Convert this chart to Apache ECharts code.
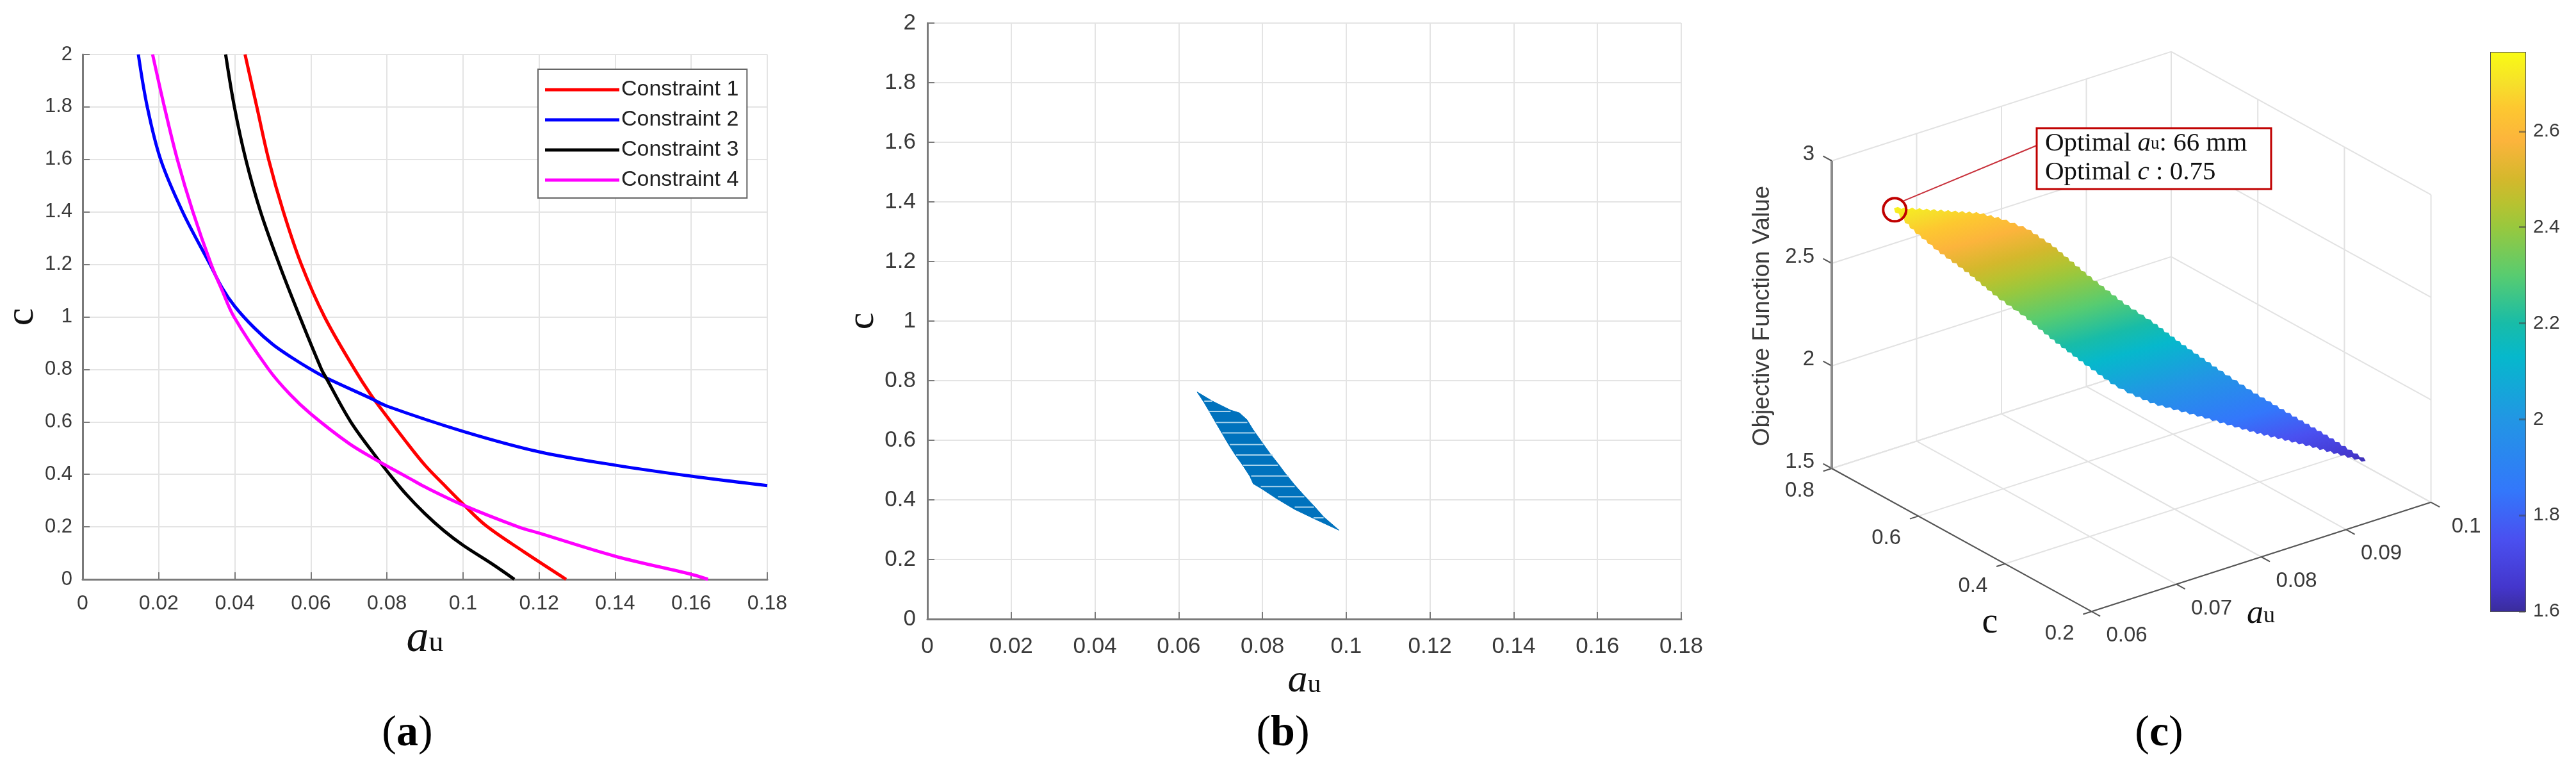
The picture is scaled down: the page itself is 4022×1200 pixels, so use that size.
<!DOCTYPE html>
<html><head><meta charset="utf-8">
<script src="https://cdn.jsdelivr.net/npm/echarts@6/dist/echarts.min.js"></script>
<style>html,body{margin:0;padding:0;background:#fff}#c{width:4022px;height:1200px}</style>
</head><body><div id="c"></div>
<script>
// ---- panel (a): constraint curves [a_u, c]
const constraint1 = [[.0427,2],[.0458,1.8],[.0489,1.6],[.0528,1.4],[.0575,1.2],[.0636,1],[.0715,.8],[.0757,.705],[.08,.62],[.085,.525],[.09,.435],[.095,.36],[.1,.287],[.106,.205],[.1159,.106],[.1271,0]];
const constraint2 = [[.01465,2],[.017,1.8],[.0205,1.6],[.0263,1.4],[.0335,1.2],[.0367,1.11],[.04,1.04],[.045,.96],[.05,.895],[.055,.845],[.06,.8],[.064,.768],[.0757,.69],[.08,.66],[.1,.564],[.12,.486],[.14,.435],[.16,.393],[.18,.357]];
const constraint3 = [[.0376,2],[.0399,1.8],[.0429,1.6],[.0468,1.4],[.0517,1.2],[.0571,1],[.0628,.8],[.064,.768],[.0705,.6],[.0775,.46],[.0807,.4],[.085,.325],[.09,.25],[.095,.185],[.1,.13],[.1075,.06],[.1135,0]];
const constraint4 = [[.0184,2],[.0215,1.8],[.0249,1.6],[.029,1.4],[.0338,1.2],[.0367,1.1],[.0398,1],[.0489,.8],[.0545,.705],[.06,.63],[.07,.518],[.0775,.452],[.08,.432],[.0859,.385],[.09,.352],[.1,.283],[.1145,.2],[.12,.176],[.14,.088],[.16,.019],[.1644,0]];
// ---- panel (b): feasible region outline [a_u, c] and the pale scan gaps across it
const regionOutline = [[.0644,.762],[.0681,.731],[.0724,.701],[.0745,.692],[.0763,.669],[.0777,.637],[.0797,.597],[.0819,.554],[.0837,.522],[.0854,.49],[.0877,.45],[.09,.414],[.0926,.375],[.0946,.343],[.0983,.298],[.0926,.335],[.0877,.368],[.0834,.404],[.0796,.439],[.0778,.454],[.077,.479],[.0752,.518],[.0735,.551],[.0719,.586],[.0704,.622],[.0689,.658],[.0673,.697],[.066,.728]];
const gapC  = [.7312,.6968,.6595,.625,.5856,.5505,.516,.4802,.4444,.41,.3755,.3397];
const gapA0 = [.0661,.0673,.0689,.0704,.0722,.0737,.0754,.0773,.0796,.0837,.0877,.0922];
const gapA1 = [.068,.0724,.0764,.0783,.0802,.0824,.0837,.0862,.0877,.09,.0923,.0946];
// ---- panel (c): objective surface outline
const surfA = [.0654,.0681,.0724,.0745,.0763,.0777,.0797,.0819,.0837,.0854,.0877,.09,.0926,.0946,.0973,.0926,.0877,.0834,.0796,.0778,.077,.0752,.0735,.0719,.0704,.0689,.0673,.066];
const surfC = [.762,.731,.701,.692,.669,.637,.597,.554,.522,.49,.45,.414,.375,.343,.298,.335,.368,.404,.439,.454,.479,.518,.551,.586,.622,.658,.697,.728];
const surfZ = [2.74,2.729,2.69,2.645,2.6,2.535,2.414,2.294,2.214,2.125,2.016,1.915,1.813,1.736,1.624,1.72,1.815,1.905,1.978,2.03,2.056,2.147,2.2375,2.334,2.41,2.503,2.587,2.669];
const aTicks3d = [.06,.07,.08,.09,.1];
const cTicks3d = [.2,.4,.6,.8];
const zTicks3d = [1.5,2,2.5,3];
const zTickText = ['1.5','2','2.5','3'];
const aTickText = ['0.06','0.07','0.08','0.09','0.1'];
const cTickText = ['0.2','0.4','0.6','0.8'];
const optimum = [.0654,.762,2.74];
// ---- colour bar
const cbarMin = 1.6, cbarMax = 2.764;
const cmapZ = [1.6,1.65,1.75,1.85,2.0,2.13,2.2,2.3,2.4,2.45,2.5,2.58,2.65,2.7,2.764];
const cmapC = ['#3a2c9c','#4436cc','#4a50f0','#3377fb','#2296e4','#06b8cc','#18bca8','#58cc70','#98c83e','#b8c230','#d4b82c','#fcb43c','#fdc830','#f6e02a','#f9fb14'];

const SANS = '"Liberation Sans",Arial,sans-serif', SERIF = '"Liberation Serif",serif';
const TXT = '#3a3a3a', AXIS = '#7a7a7a', GRID = '#e4e4e4';

// 3-D view: linear projection of (a, c, z) on a hidden axis pair
function project(a, c, z) {
  return [2860 + (a - .06) * 13250 + (.8 - c) * 676,
          731 - (a - .06) * 4260 + (.8 - c) * 372 - (z - 1.5) * 320];
}
const boxSegs = [], axisSegs = [], zAxisSegs = [];
const [a0, a1] = [.06, .1], [c0, c1] = [.2, .8], [z0, z1] = [1.5, 3];
aTicks3d.forEach(a => { boxSegs.push([a,c0,z0,a,c1,z0]); boxSegs.push([a,c1,z0,a,c1,z1]);
  axisSegs.push([a,c0,z0,a,c0-.02,z0]); });
cTicks3d.forEach(c => { boxSegs.push([a0,c,z0,a1,c,z0]); boxSegs.push([a1,c,z0,a1,c,z1]);
  axisSegs.push([a0,c,z0,a0-.001,c,z0]); });
zTicks3d.forEach(z => { boxSegs.push([a0,c1,z,a1,c1,z]); boxSegs.push([a1,c0,z,a1,c1,z]);
  axisSegs.push([a0,c1,z,a0,c1+.02,z]); });
axisSegs.push([a0,c0,z0,a1,c0,z0]); axisSegs.push([a0,c0,z0,a0,c1,z0]);
zAxisSegs.push([a0,c1,z0,a0,c1,z1]);

const segSeries = (data, color, width, z) => ({
  type:'custom', xAxisIndex:2, yAxisIndex:2, coordinateSystem:'cartesian2d', clip:false, silent:true, z,
  data: data.map(s => project(s[0],s[1],s[2]).concat(project(s[3],s[4],s[5]))),
  renderItem: (p, api) => { const a = api.coord([api.value(0),api.value(1)]), b = api.coord([api.value(2),api.value(3)]);
    return {type:'line', shape:{x1:a[0],y1:a[1],x2:b[0],y2:b[1]}, style:{stroke:color,lineWidth:width}}; }
});
const labelSeries = (pts, texts, opts) => ({
  type:'custom', xAxisIndex:2, yAxisIndex:2, clip:false, silent:true, z:5,
  data: pts,
  renderItem: (p, api) => { const q = api.coord([api.value(0),api.value(1)]);
    return {type:'text', x:q[0]+opts.dx, y:q[1]+opts.dy,
      style:{text:texts[p.dataIndex], fill:TXT, font:'33px '+SANS, align:opts.align||'center', verticalAlign:'middle'}}; }
});
const polyPx = (pts, api) => pts.map(q => api.coord(q));
// saw-tooth edge left by the scan grid (visual style only)
function jag(pts, step, amp) {
  const out = [];
  for (let i = 0; i < pts.length; i++) {
    const A = pts[i], B = pts[(i+1)%pts.length], L = Math.hypot(B[0]-A[0],B[1]-A[1]);
    const n = Math.max(1, Math.floor(L/step)), ox = (B[1]-A[1])/L, oy = -(B[0]-A[0])/L;
    for (let k = 0; k < n; k++) {
      const t0 = k/n, t1 = (k+.5)/n;
      out.push([A[0]+(B[0]-A[0])*t0, A[1]+(B[1]-A[1])*t0]);
      out.push([A[0]+(B[0]-A[0])*t1+ox*amp, A[1]+(B[1]-A[1])*t1+oy*amp]);
    }
  }
  return out;
}
const stops = cmapZ.map((z,i) => ({offset:(z-cbarMin)/(cbarMax-cbarMin), color:cmapC[i]}));
const surfData = surfA.map((a,i) => project(a,surfC[i],surfZ[i]));

const isoN = [35/131.7, 127/131.7];
function gradientFor() {
  const P0 = surfData[0], P1 = surfData[14];
  const d = (P1[0]-P0[0])*isoN[0] + (P1[1]-P0[1])*isoN[1];
  const perZ = d/(surfZ[0]-surfZ[14]);
  const at = z => [P0[0]+isoN[0]*(surfZ[0]-z)*perZ, P0[1]+isoN[1]*(surfZ[0]-z)*perZ];
  const s = at(cbarMin), e = at(cbarMax);
  return {type:'linear', x:s[0], y:s[1], x2:e[0], y2:e[1], global:true, colorStops:stops};
}

const flatAxis = (grid, extra) => Object.assign({
  type:'value', gridIndex:grid, min:0, axisLine:{show:true,onZero:false,lineStyle:{color:AXIS,width:3}},
  axisTick:{show:true,inside:true,length:11,lineStyle:{color:AXIS,width:2}},
  splitLine:{show:true,lineStyle:{color:GRID,width:2}},
}, extra);
const xRich = (a,u) => ({a:{fontFamily:SERIF,fontStyle:'italic',fontSize:a,color:'#111',padding:[0,0,12,0]},u:{fontFamily:SERIF,fontSize:u,color:'#111'}});

const option = {
  backgroundColor:'#fff', animation:false,
  title:[[631,'a'],[1998,'b'],[3366,'c']].map(t => ({
    text:'{p|(}{b|'+t[1]+'}{p|)}', left:t[0], top:1106, textAlign:'center',
    textStyle:{fontWeight:'normal',rich:{p:{fontFamily:SERIF,fontWeight:'normal',fontSize:68,color:'#000'},b:{fontFamily:SERIF,fontWeight:'bold',fontSize:68,color:'#000'}}}
  })),
  grid:[
    {left:129,top:85,width:1069,height:819,outerBoundsMode:'none'},
    {left:1448,top:36,width:1177,height:930,outerBoundsMode:'none'},
    {left:0,top:0,width:4022,height:1200,outerBoundsMode:'none'},
    {left:3889,top:82,width:54,height:872,outerBoundsMode:'none',show:true,borderColor:'#555',borderWidth:2,backgroundColor:'transparent'}
  ],
  xAxis:[
    flatAxis(0,{max:.18,interval:.02,name:'{a|a}{u|u}',nameLocation:'middle',nameGap:58,nameTextStyle:{rich:xRich(70,46)},
      axisLabel:{color:TXT,fontFamily:SANS,fontSize:32,margin:22}}),
    flatAxis(1,{max:.18,interval:.02,name:'{a|a}{u|u}',nameLocation:'middle',nameGap:46,nameTextStyle:{rich:xRich(62,42)},
      axisLabel:{color:TXT,fontFamily:SANS,fontSize:35,margin:26}}),
    {type:'value',gridIndex:2,min:0,max:4022,show:false},
    {type:'category',gridIndex:3,data:[''],show:false}
  ],
  yAxis:[
    flatAxis(0,{max:2,interval:.2,name:'c',nameLocation:'middle',nameRotate:90,nameGap:60,nameTextStyle:{fontFamily:SERIF,fontSize:62,color:'#111'},
      axisLabel:{color:TXT,fontFamily:SANS,fontSize:31,margin:16}}),
    flatAxis(1,{max:2,interval:.2,name:'c',nameLocation:'middle',nameRotate:90,nameGap:64,nameTextStyle:{fontFamily:SERIF,fontSize:60,color:'#111'},
      axisLabel:{color:TXT,fontFamily:SANS,fontSize:35,margin:18}}),
    {type:'value',gridIndex:2,min:0,max:1200,inverse:true,show:false},
    {type:'value',gridIndex:3,min:cbarMin,max:cbarMax,interval:.2,position:'right',z:6,
      axisLine:{show:false},splitLine:{show:false},
      axisTick:{show:true,inside:true,length:10,lineStyle:{color:'rgba(70,70,70,.55)',width:3}},
      axisLabel:{color:TXT,fontFamily:SANS,fontSize:30,margin:12,showMaxLabel:false}}
  ],
  legend:{
    left:840,top:108,orient:'vertical',icon:'rect',itemWidth:116,itemHeight:5,itemGap:13,
    padding:[15,13,11,11],backgroundColor:'#fff',borderColor:'#666',borderWidth:2,
    textStyle:{fontFamily:SANS,fontSize:34,color:'#222',padding:[0,0,0,-2]},
    data:['Constraint 1','Constraint 2','Constraint 3','Constraint 4']
  },
  series:[
    ...[['Constraint 1',constraint1,'#ff0000'],['Constraint 2',constraint2,'#0000ff'],['Constraint 3',constraint3,'#000000'],['Constraint 4',constraint4,'#ff00ff']].map(s => ({
      name:s[0],type:'line',xAxisIndex:0,yAxisIndex:0,data:s[1],showSymbol:false,smooth:.35,
      lineStyle:{color:s[2],width:5},itemStyle:{color:s[2]},silent:true
    })),
    {type:'custom',xAxisIndex:1,yAxisIndex:1,data:[[0,0]],silent:true,z:3,
     renderItem:(p,api)=>({type:'polygon',shape:{points:polyPx(regionOutline,api)},style:{fill:'#0072bd',stroke:'#0072bd',lineWidth:1}})},
    {type:'custom',xAxisIndex:1,yAxisIndex:1,data:gapC.map((c,i)=>[gapA0[i],c,gapA1[i]]),silent:true,z:4,
     renderItem:(p,api)=>{const a=api.coord([api.value(0),api.value(1)]),b=api.coord([api.value(2),api.value(1)]);
       return {type:'line',shape:{x1:a[0],y1:a[1],x2:b[0],y2:b[1]},style:{stroke:'#a9d3ec',lineWidth:2}};}},
    segSeries(boxSegs,'#e2e2e2',2,1),
    segSeries(axisSegs,'#555',2,2),
    segSeries(zAxisSegs,'#8c8c8c',4,2),
    {type:'custom',xAxisIndex:2,yAxisIndex:2,clip:false,silent:true,z:3,data:[[0,0]],
     renderItem:(p,api)=>({type:'polygon',shape:{points:jag(polyPx(surfData,api),11,3)},style:{fill:gradientFor()}})},
    labelSeries(zTicks3d.map(z=>project(a0,c1,z)),zTickText,{dx:-27,dy:-10,align:'right'}),
    labelSeries(aTicks3d.map(a=>project(a,c0,z0)),aTickText,{dx:55,dy:38}),
    labelSeries(cTicks3d.map(c=>project(a0,c,z0)),cTickText,{dx:-50,dy:35}),
    {type:'custom',xAxisIndex:2,yAxisIndex:2,clip:false,silent:true,z:6,data:[project(optimum[0],optimum[1],optimum[2])],
     renderItem:(p,api)=>{const q=api.coord([api.value(0),api.value(1)]);
       return {type:'group',children:[
         {type:'circle',shape:{cx:q[0]+1,cy:q[1]+2,r:18},style:{fill:'none',stroke:'#c00000',lineWidth:4}},
         {type:'line',shape:{x1:q[0]+15,y1:q[1]-12,x2:3180,y2:227},style:{stroke:'#c8303a',lineWidth:2}}
       ]};}},
    {type:'bar',xAxisIndex:3,yAxisIndex:3,data:[cbarMax],barWidth:'100%',silent:true,
     itemStyle:{color:{type:'linear',x:0,y:1,x2:0,y2:0,colorStops:stops}}}
  ],
  graphic:[
    {type:'rect',z:50,shape:{x:3180,y:200,width:366,height:95},style:{fill:'#fff',stroke:'#c00000',lineWidth:3}},
    {type:'text',z:51,x:3193,y:202,style:{
      text:'{n|Optimal }{i|a}{s|u}{n|: 66 mm}\n{n|Optimal }{i|c}{n| : 0.75}',
      rich:{n:{fontFamily:SERIF,fontSize:41,fill:'#111',lineHeight:45},
            i:{fontFamily:SERIF,fontStyle:'italic',fontSize:41,fill:'#111',lineHeight:45},
            s:{fontFamily:SERIF,fontSize:27,fill:'#111',lineHeight:36}}}},
    {type:'text',z:5,rotation:Math.PI/2,x:2752,y:493,style:{text:'Objective Function Value',font:'36.8px '+SANS,fill:TXT,align:'center',verticalAlign:'middle'}},
    {type:'text',z:5,x:3107,y:972,style:{text:'c',font:'56px '+SERIF,fill:'#111',align:'center',verticalAlign:'middle'}},
    {type:'text',z:5,x:3508,y:962,style:{text:'{a|a}{u|u}',rich:{a:{fontFamily:SERIF,fontStyle:'italic',fontSize:52,fill:'#111',padding:[0,0,8,0]},u:{fontFamily:SERIF,fontSize:36,fill:'#111'}},verticalAlign:'middle'}}
  ]
};
const chart = echarts.init(document.getElementById('c'),null,{renderer:'canvas',width:4022,height:1200});
chart.setOption(option);
</script></body></html>
